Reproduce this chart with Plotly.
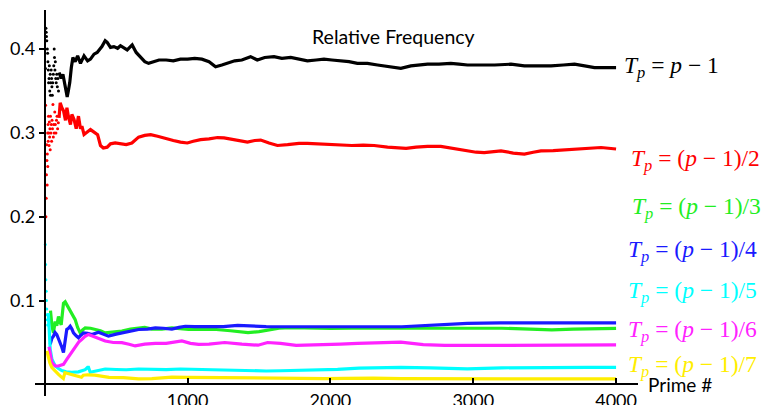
import plotly.graph_objects as go

# ---------------- data ----------------
# early scattered points (prime index, relative frequency)
black_dot_n = [5, 8, 10, 12, 14, 18, 20, 22, 25, 27, 30, 32, 35, 38, 40, 42, 45, 48, 50, 53, 56, 60, 63, 66, 68, 71, 74, 77, 80, 84, 88, 92, 96]
black_dot_v = [0.377, 0.425, 0.42, 0.415, 0.41, 0.40, 0.395, 0.385, 0.375, 0.36, 0.365, 0.38, 0.35, 0.37, 0.345, 0.36, 0.375, 0.365, 0.355, 0.345, 0.36, 0.37, 0.38, 0.40, 0.39, 0.375, 0.385, 0.365, 0.36, 0.37, 0.355, 0.365, 0.35]

red_dot_n = [6, 8, 10, 12, 14, 15, 17, 18, 20, 21, 23, 24, 26, 28, 30, 32, 34, 36, 38, 40, 43, 46, 48, 51, 54, 57, 60, 63, 66, 70, 74, 78, 82, 86, 90, 95]
red_dot_v = [0.333, 0.2, 0.222, 0.25, 0.286, 0.267, 0.238, 0.275, 0.3, 0.26, 0.31, 0.29, 0.32, 0.3, 0.285, 0.313, 0.295, 0.305, 0.28, 0.32, 0.3, 0.31, 0.29, 0.315, 0.305, 0.334, 0.295, 0.31, 0.3, 0.325, 0.31, 0.3, 0.315, 0.32, 0.305, 0.312]

cyan_dot_n = [4, 6, 8, 10, 12, 14, 16, 18, 20]
cyan_dot_v = [0.167, 0.143, 0.125, 0.111, 0.1, 0.09, 0.083, 0.077, 0.071]

# continuous parts
black_n = [100, 115, 127, 140, 150, 157, 165, 175, 186, 197, 213, 230, 250, 275, 300, 320, 345, 367, 400, 423, 437, 460, 484, 510, 530, 555, 577, 600, 612, 640, 670, 700, 727, 750, 800, 850, 900, 950, 1000, 1050, 1100, 1150, 1196, 1240, 1280, 1330, 1380, 1441, 1488, 1540, 1605, 1660, 1722, 1780, 1839, 1900, 1955, 2010, 2072, 2130, 2189, 2259, 2330, 2423, 2493, 2563, 2620, 2680, 2760, 2843, 2900, 2960, 3050, 3150, 3264, 3358, 3450, 3545, 3630, 3709, 3780, 3849, 3920, 4000]
black_v = [0.372, 0.365, 0.37, 0.36, 0.348, 0.343, 0.35, 0.36, 0.378, 0.39, 0.385, 0.392, 0.383, 0.392, 0.386, 0.388, 0.394, 0.396, 0.403, 0.41, 0.408, 0.402, 0.403, 0.401, 0.404, 0.401, 0.399, 0.403, 0.405, 0.396, 0.39, 0.385, 0.383, 0.384, 0.387, 0.387, 0.386, 0.388, 0.388, 0.389, 0.388, 0.385, 0.379, 0.381, 0.383, 0.386, 0.387, 0.391, 0.387, 0.39, 0.391, 0.389, 0.390, 0.388, 0.386, 0.387, 0.388, 0.387, 0.386, 0.385, 0.383, 0.383, 0.381, 0.379, 0.377, 0.380, 0.381, 0.382, 0.382, 0.383, 0.382, 0.381, 0.381, 0.381, 0.382, 0.380, 0.380, 0.380, 0.381, 0.382, 0.380, 0.378, 0.378, 0.378]

red_n = [100, 108, 120, 132, 145, 155, 165, 180, 190, 205, 220, 236, 250, 260, 275, 300, 320, 345, 370, 390, 410, 437, 460, 493, 530, 570, 610, 657, 700, 742, 790, 844, 900, 950, 998, 1040, 1091, 1150, 1210, 1255, 1320, 1380, 1419, 1470, 1512, 1570, 1629, 1700, 1780, 1839, 1900, 1980, 2072, 2150, 2230, 2306, 2400, 2469, 2530, 2600, 2680, 2773, 2850, 2950, 3020, 3077, 3140, 3194, 3280, 3358, 3420, 3474, 3560, 3650, 3750, 3830, 3895, 4000]
red_v = [0.318, 0.336, 0.33, 0.326, 0.315, 0.33, 0.32, 0.31, 0.322, 0.316, 0.305, 0.32, 0.305, 0.308, 0.298, 0.302, 0.304, 0.301, 0.298, 0.285, 0.282, 0.283, 0.287, 0.288, 0.287, 0.286, 0.288, 0.295, 0.297, 0.298, 0.296, 0.294, 0.291, 0.289, 0.288, 0.290, 0.292, 0.293, 0.2945, 0.294, 0.292, 0.290, 0.289, 0.291, 0.2915, 0.288, 0.285, 0.286, 0.2875, 0.2876, 0.287, 0.286, 0.285, 0.285, 0.2855, 0.285, 0.283, 0.2825, 0.2815, 0.283, 0.284, 0.284, 0.282, 0.279, 0.277, 0.2765, 0.278, 0.2785, 0.276, 0.2747, 0.277, 0.2785, 0.279, 0.280, 0.281, 0.282, 0.2826, 0.2808]

green_n = [40, 50, 61, 73, 84, 96, 115, 125, 131, 143, 160, 178, 195, 213, 230, 248, 265, 283, 320, 353, 390, 423, 480, 540, 600, 657, 700, 750, 820, 890, 950, 1007, 1100, 1200, 1300, 1423, 1500, 1562, 1640, 1725, 1850, 2000, 2150, 2300, 2450, 2600, 2800, 3000, 3200, 3400, 3550, 3700, 3850, 4000]
green_v = [0.088, 0.07, 0.0615, 0.075, 0.07, 0.081, 0.071, 0.085, 0.0967, 0.0985, 0.093, 0.089, 0.083, 0.0773, 0.068, 0.0615, 0.065, 0.0674, 0.067, 0.066, 0.064, 0.0615, 0.0625, 0.0637, 0.066, 0.0674, 0.068, 0.066, 0.066, 0.0674, 0.066, 0.0655, 0.066, 0.0655, 0.064, 0.0617, 0.063, 0.065, 0.067, 0.0678, 0.067, 0.0668, 0.067, 0.067, 0.067, 0.067, 0.067, 0.0665, 0.067, 0.066, 0.065, 0.066, 0.0665, 0.0669]

blue_n = [38, 50, 61, 72, 84, 96, 108, 120, 131, 143, 154, 166, 178, 190, 201, 220, 236, 255, 271, 300, 330, 376, 410, 446, 500, 540, 600, 657, 720, 774, 830, 890, 940, 984, 1050, 1150, 1250, 1350, 1450, 1550, 1650, 1800, 1950, 2100, 2300, 2500, 2700, 2958, 3190, 3400, 3600, 3800, 4000]
blue_v = [0.048, 0.055, 0.0576, 0.062, 0.0596, 0.055, 0.0498, 0.044, 0.038, 0.052, 0.0655, 0.067, 0.0694, 0.066, 0.0615, 0.058, 0.0557, 0.059, 0.0615, 0.061, 0.0596, 0.0623, 0.06, 0.0576, 0.06, 0.0615, 0.063, 0.0655, 0.066, 0.0674, 0.067, 0.066, 0.068, 0.0694, 0.069, 0.0688, 0.069, 0.0705, 0.0695, 0.069, 0.0688, 0.069, 0.0688, 0.069, 0.0688, 0.0688, 0.0705, 0.0727, 0.0734, 0.0733, 0.0735, 0.0733, 0.0734]

magenta_n = [30, 40, 49, 60, 75, 96, 115, 131, 154, 170, 189, 205, 224, 240, 260, 280, 306, 330, 353, 390, 423, 480, 540, 590, 633, 700, 774, 850, 910, 960, 1020, 1077, 1150, 1260, 1380, 1493, 1560, 1650, 1760, 1880, 1957, 2070, 2190, 2300, 2423, 2493, 2650, 2800, 3000, 3200, 3400, 3600, 3800, 4000]
magenta_v = [0.045, 0.036, 0.0263, 0.024, 0.022, 0.022, 0.023, 0.024, 0.0298, 0.034, 0.038, 0.043, 0.0478, 0.051, 0.0537, 0.057, 0.0596, 0.058, 0.0557, 0.053, 0.0518, 0.050, 0.0498, 0.048, 0.0459, 0.048, 0.049, 0.049, 0.050, 0.0518, 0.049, 0.0478, 0.048, 0.050, 0.048, 0.0468, 0.050, 0.049, 0.0465, 0.047, 0.0468, 0.048, 0.049, 0.0495, 0.0497, 0.0505, 0.0475, 0.0466, 0.0465, 0.0465, 0.0468, 0.0468, 0.047, 0.0472]

cyan_n = [25, 30, 38, 50, 73, 96, 119, 150, 189, 236, 283, 300, 306, 318, 360, 423, 500, 570, 657, 750, 850, 950, 1050, 1150, 1250, 1350, 1450, 1550, 1650, 1750, 1850, 1950, 2050, 2200, 2350, 2493, 2700, 2958, 3200, 3500, 3800, 4000]
cyan_v = [0.085, 0.062, 0.042, 0.03, 0.022, 0.019, 0.0165, 0.015, 0.0145, 0.015, 0.0176, 0.0204, 0.0204, 0.0145, 0.016, 0.0184, 0.0178, 0.0175, 0.0184, 0.018, 0.0176, 0.0184, 0.0180, 0.0177, 0.0165, 0.016, 0.016, 0.016, 0.0163, 0.0165, 0.0168, 0.0173, 0.018, 0.0195, 0.0204, 0.0204, 0.0198, 0.0185, 0.0198, 0.0204, 0.0204, 0.0204]

yellow_n = [15, 25, 35, 50, 70, 96, 115, 130, 141, 160, 190, 220, 257, 270, 300, 350, 400, 450, 550, 657, 750, 890, 1000, 1100, 1250, 1400, 1550, 1700, 1850, 1960, 2100, 2300, 2500, 2800, 3100, 3400, 3700, 4000]
yellow_v = [0.04, 0.032, 0.026, 0.02, 0.016, 0.012, 0.009, 0.007, 0.014, 0.013, 0.012, 0.0105, 0.0085, 0.011, 0.0115, 0.011, 0.0095, 0.0085, 0.008, 0.0067, 0.007, 0.0086, 0.0085, 0.0083, 0.008, 0.0075, 0.0072, 0.0073, 0.0072, 0.007, 0.0072, 0.0075, 0.0068, 0.0066, 0.0066, 0.0066, 0.0066, 0.0066]

x_tick_vals = [1000, 2000, 3000, 4000]
y_tick_vals = [0.1, 0.2, 0.3, 0.4]
y_tick_text = ["0.1", "0.2", "0.3", "0.4"]

labels = [
    ("<i>T<sub>p</sub></i> = <i>p</i> − 1", "black"),
    ("<i>T<sub>p</sub></i> = (<i>p</i> − 1)/2", "#ff0000"),
    ("<i>T<sub>p</sub></i> = (<i>p</i> − 1)/3", "#22ee22"),
    ("<i>T<sub>p</sub></i> = (<i>p</i> − 1)/4", "#1a1aff"),
    ("<i>T<sub>p</sub></i> = (<i>p</i> − 1)/5", "#00ffff"),
    ("<i>T<sub>p</sub></i> = (<i>p</i> − 1)/6", "#ff22ff"),
    ("<i>T<sub>p</sub></i> = (<i>p</i> − 1)/7", "#ffee00"),
]

# ---------------- layout geometry ----------------
# the page body has an 8px margin, so every page pixel is shifted by OFF
OFF = 8
W, H = 769, 405
L, R, T, B = 33 - OFF, 638 - OFF, 10 - OFF, 400 - OFF   # plot area in figure pixels
X0PX, XS = 42.8 - OFF, 0.1433                 # pixel of x=0, px per unit
Y0PX, YS = 388.3 - OFF, 847.0                 # pixel of y=0, px per unit
x_range = [(L - X0PX) / XS, (R - X0PX) / XS]
y_range = [(Y0PX - B) / YS, (Y0PX - T) / YS]

def px(xp):
    return (xp - OFF - L) / (R - L)

def py(yp):
    return (B - (yp - OFF)) / (B - T)

fig = go.Figure()

series = [
    (black_n, black_v, "black"),
    (red_n, red_v, "#ff0000"),
    (green_n, green_v, "#22ee22"),
    (blue_n, blue_v, "#1a1aff"),
    (cyan_n, cyan_v, "#00ffff"),
    (magenta_n, magenta_v, "#ff22ff"),
    (yellow_n, yellow_v, "#ffee00"),
]
for n, v, c in series:
    fig.add_trace(go.Scatter(x=n, y=v, mode="lines", line=dict(color=c, width=3.2),
                             showlegend=False, hoverinfo="skip"))

for n, v, c in [(black_dot_n, black_dot_v, "black"), (red_dot_n, red_dot_v, "#ff0000"),
                (cyan_dot_n, cyan_dot_v, "#00ffff")]:
    fig.add_trace(go.Scatter(x=n, y=v, mode="markers", marker=dict(color=c, size=3),
                             showlegend=False, hoverinfo="skip"))

label_pos = [(622, 68), (629, 162), (630, 210), (626, 253), (626, 295), (626, 334), (626, 370)]
for (txt, col), (xp, yp) in zip(labels, label_pos):
    fig.add_annotation(x=px(xp), y=py(yp), xref="paper", yref="paper", text=txt,
                       showarrow=False, xanchor="left", yanchor="middle",
                       font=dict(family="Liberation Serif", size=23.5, color=col))

fig.add_annotation(x=px(392.5), y=py(37), xref="paper", yref="paper", text="Relative Frequency",
                   showarrow=False, xanchor="center", yanchor="middle",
                   font=dict(family="Lato", size=19.5, color="black"))
fig.add_annotation(x=px(646), y=py(388), xref="paper", yref="paper", text="Prime #",
                   showarrow=False, xanchor="left", yanchor="middle",
                   font=dict(family="Lato", size=19, color="black"))

fig.update_layout(
    width=W, height=H,
    margin=dict(l=L, r=W - R, t=T, b=H - B, pad=0),
    paper_bgcolor="white", plot_bgcolor="white",
    xaxis=dict(range=x_range, domain=[0, 1], anchor="free",
               position=(0 - y_range[0]) / (y_range[1] - y_range[0]),
               showline=True, linecolor="black", linewidth=2,
               ticks="inside", ticklen=5, tickwidth=1.5, tickcolor="black",
               tickvals=x_tick_vals, showgrid=False, zeroline=False,
               tickfont=dict(family="Lato", size=18, color="black")),
    yaxis=dict(range=y_range, domain=[0, 1], anchor="free",
               position=(0 - x_range[0]) / (x_range[1] - x_range[0]),
               showline=True, linecolor="black", linewidth=2,
               ticks="outside", ticklen=5, tickwidth=1.5, tickcolor="black",
               tickvals=y_tick_vals, ticktext=y_tick_text, showgrid=False, zeroline=False,
               tickfont=dict(family="Lato", size=18, color="black")),
)

fig.write_html("out.html")
